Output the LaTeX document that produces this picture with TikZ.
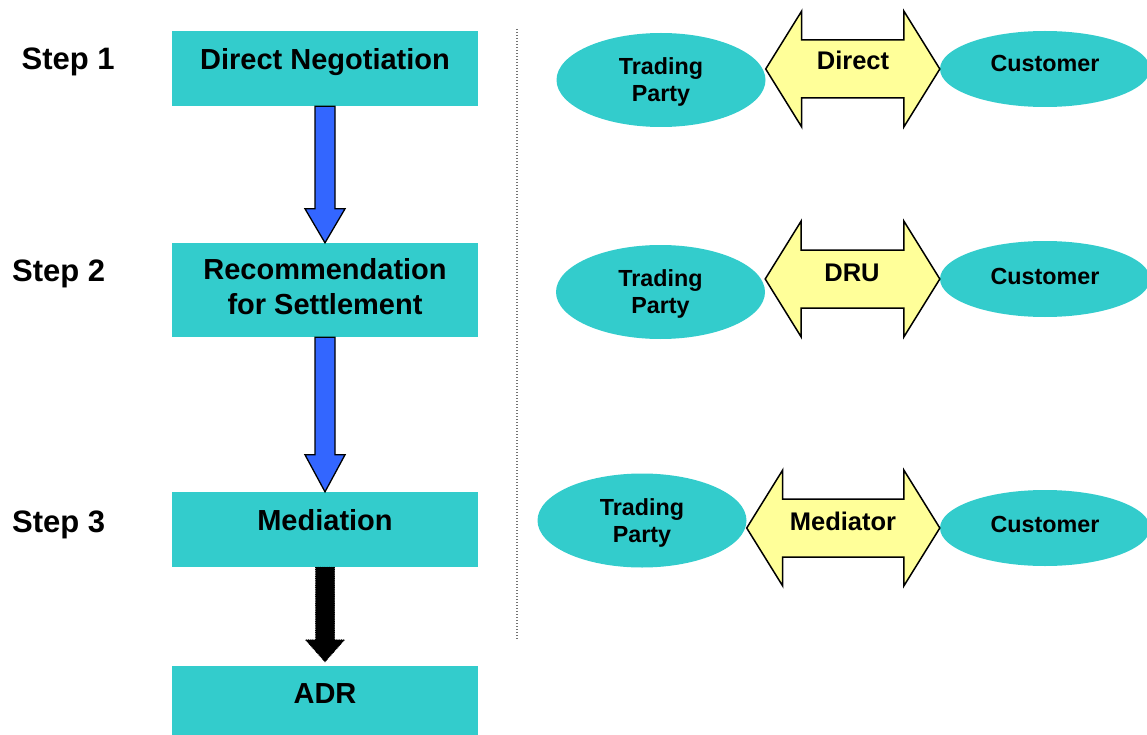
\documentclass[tikz,border=0pt]{standalone}
\usepackage{fontspec}
\setmainfont{Liberation Sans}
\usetikzlibrary{calc,shapes.geometric}
\definecolor{boxteal}{HTML}{33CCCC}
\definecolor{pale}{HTML}{FFFF99}
\definecolor{flowblue}{HTML}{3366FF}

% double-headed arrow between two tips, head length 36, half widths 58/29
\newcommand\twowayarrow[2]{%
  \draw[yarrow] (#1) -- ($(#1)+(36,-58)$) -- ($(#1)+(36,-29)$) -- ($(#2)+(-36,-29)$)
    -- ($(#2)+(-36,-58)$) -- (#2) -- ($(#2)+(-36,58)$) -- ($(#2)+(-36,29)$)
    -- ($(#1)+(36,29)$) -- ($(#1)+(36,58)$) -- cycle;}

% block arrow pointing down from the bottom of one box to the top of the next
\newcommand\blockdown[4]{% #1 style, #2 from, #3 to, #4 head length
  \draw[#1] ($(#2.south)+(-10,0)$) -- ($(#3.north)+(-10,-#4)$) -- ($(#3.north)+(-20,-#4)$)
    -- (#3.north) -- ($(#3.north)+(20,-#4)$) -- ($(#3.north)+(10,-#4)$)
    -- ($(#2.south)+(10,0)$) -- cycle;}

\begin{document}
\begin{tikzpicture}[x=1pt,y=-1pt,
  stepbox/.style={rectangle, fill=boxteal, draw=none, inner sep=0pt,
    minimum width=306pt, minimum height=75pt},
  party/.style={ellipse, fill=boxteal, inner sep=0pt,
    minimum width=209pt, minimum height=94pt},
  cust/.style={ellipse, fill=boxteal, inner sep=0pt,
    minimum width=210pt, minimum height=76pt},
  bigtext/.style={font=\bfseries\fontsize{29}{34.7}\selectfont, inner sep=0pt, align=center},
  steptext/.style={font=\bfseries\fontsize{31}{36}\selectfont, inner sep=0pt},
  ovaltext/.style={font=\bfseries\fontsize{23.3}{26.7}\selectfont, inner sep=0pt, align=center},
  arrowtext/.style={font=\bfseries\fontsize{25.5}{30}\selectfont, inner sep=0pt},
  bluearrow/.style={fill=flowblue, draw=black, line width=1.3pt, line join=miter},
  blackarrow/.style={fill=black, draw=black, line width=0.8pt, densely dotted},
  yarrow/.style={fill=pale, draw=black, line width=1.5pt, line join=miter},
  divider/.style={draw=black!55, line width=1.1pt, dash pattern=on 1.4pt off 1.6pt}]

\useasboundingbox (0,0) rectangle (1147,735);
\clip (0,0) rectangle (1147,735);

% ---- left column: the steps ----
\node[stepbox] (b1) at (325,68.5) {};
\node[stepbox, minimum height=94pt] (b2) at (325,290) {};
\node[stepbox] (b3) at (325,529.5) {};
\node[stepbox] (b4) at (325,703.5) {};

\node[bigtext, anchor=base] (b1t) at (325,69.3) {Direct Negotiation};
\node[bigtext] (b2t) at (325,286.5) {Recommendation\\for Settlement};
\node[bigtext, anchor=base] (b3t) at (325,530.5) {Mediation};
\node[bigtext, anchor=base] (b4t) at (325,703.3) {ADR};

\node[steptext, anchor=base west] (s1) at (21.5,69.5) {Step 1};
\node[steptext, anchor=base west] (s2) at (12,281) {Step 2};
\node[steptext, anchor=base west] (s3) at (12,532.5) {Step 3};

\blockdown{bluearrow}{b1}{b2}{34}
\blockdown{bluearrow}{b2}{b3}{37}
\coordinate (adrtip) at ($(b4.north)+(0,-4)$);
\draw[blackarrow] ($(b3.south)+(-9.5,0)$) -- ($(adrtip)+(-9.5,-22)$) -- ($(adrtip)+(-19.5,-22)$)
  -- (adrtip) -- ($(adrtip)+(19.5,-22)$) -- ($(adrtip)+(9.5,-22)$) -- ($(b3.south)+(9.5,0)$) -- cycle;

% ---- separator ----
\coordinate (dtop) at (517,29);
\coordinate (dbot) at (517,640);
\draw[divider] (dtop) -- (dbot);

% ---- right column: who negotiates ----
\node[party] (tp1) at (661,80) {};
\node[party] (tp2) at (660.5,292) {};
\node[party] (tp3) at (642,520.5) {};
\node[cust] (cu1) at (1045,69) {};
\node[cust] (cu2) at (1045,279) {};
\node[cust] (cu3) at (1045,528) {};

\node[ovaltext] (tp1t) at (661,82.3) {Trading\\Party};
\node[ovaltext] (tp2t) at (660.5,294) {Trading\\Party};
\node[ovaltext] (tp3t) at (642,523) {Trading\\Party};
\node[ovaltext, anchor=base] (cu1t) at (1045,71.7) {Customer};
\node[ovaltext, anchor=base] (cu2t) at (1045,284) {Customer};
\node[ovaltext, anchor=base] (cu3t) at (1045,532.5) {Customer};

\twowayarrow{tp1.east |- cu1.west}{cu1.west}
\twowayarrow{tp2.east |- cu2.west}{cu2.west}
\twowayarrow{tp3.east |- cu3.west}{cu3.west}

\node[arrowtext, anchor=base] (a1t) at (853,70) {Direct};
\node[arrowtext, anchor=base] (a2t) at (852,281) {DRU};
\node[arrowtext, anchor=base] (a3t) at (843,530.7) {Mediator};
\end{tikzpicture}
\end{document}
